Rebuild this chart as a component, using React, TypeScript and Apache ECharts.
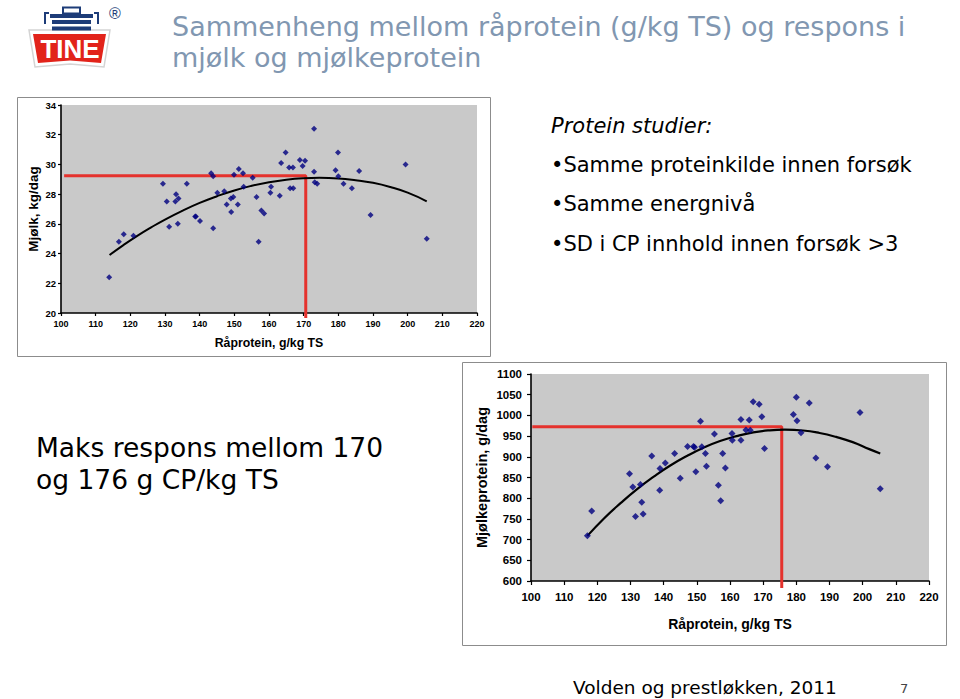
import React, { useEffect, useRef } from "react";
import * as echarts from "echarts";

const titleLines = ["Sammenheng mellom råprotein (g/kg TS) og respons i", "mjølk og mjølkeprotein"];
const noteHeading = "Protein studier:";
const noteBullets = ["•Samme proteinkilde innen forsøk", "•Samme energnivå", "•SD i CP innhold innen forsøk >3"];
const conclusionLines = ["Maks respons mellom 170", "og 176 g CP/kg TS"];
const sourceText = "Volden og prestløkken, 2011";
const pageNumber = "7";

const xAxisName = "Råprotein, g/kg TS";
const milkAxisName = "Mjølk, kg/dag";
const proteinAxisName = "Mjølkeprotein, g/dag";

// Crude protein (g/kg DM) vs milk yield (kg/day)
const milkPoints: number[][] = [
  [113.9, 22.4], [116.7, 24.8], [118.1, 25.3], [120.9, 25.2], [129.4, 28.7], [130.5, 27.5],
  [131.2, 25.8], [133.0, 27.5], [133.2, 28.0], [133.9, 27.7], [133.7, 26.0], [136.3, 28.7],
  [138.7, 26.5], [138.9, 26.5], [140.1, 26.2], [143.3, 29.4], [143.9, 29.2], [143.9, 25.7],
  [145.1, 28.1], [147.1, 28.2], [147.8, 27.3], [149.0, 27.7], [149.1, 26.8], [149.7, 27.8],
  [149.9, 29.3], [151.0, 27.3], [151.3, 29.7], [152.5, 29.4], [152.7, 28.5], [155.3, 29.1],
  [156.4, 27.8], [157.0, 24.8], [157.8, 26.9], [158.6, 26.7], [160.4, 28.1], [160.6, 28.5],
  [163.1, 27.9], [163.5, 30.1], [164.8, 30.8], [165.8, 29.8], [166.1, 28.4], [166.9, 29.8],
  [167.0, 28.4], [168.9, 30.3], [169.7, 29.9], [170.4, 30.25], [173.0, 32.4], [173.0, 29.5],
  [173.2, 28.8], [173.9, 28.7], [179.2, 29.6], [179.9, 30.8], [180.0, 29.2], [181.5, 28.7],
  [183.9, 28.4], [186.0, 29.55], [189.3, 26.6], [199.4, 30.0], [205.5, 25.0],
];
const milkTrend: number[][] = [
  [114, 23.9], [118, 24.57], [122, 25.19], [126, 25.76], [130, 26.29], [135, 26.88],
  [140, 27.41], [145, 27.86], [150, 28.25], [155, 28.56], [160, 28.8], [165, 28.97],
  [170, 29.07], [174.5, 29.1], [180, 29.06], [185, 28.94], [190, 28.76], [195, 28.48],
  [200, 28.1], [205.5, 27.52],
];
const milkOptimum: number[][] = [[100.9, 29.24], [170.6, 29.24], [170.6, 19.66]];

// Crude protein (g/kg DM) vs milk protein yield (g/day)
const proteinPoints: number[][] = [
  [117.0, 709], [118.3, 769], [129.7, 859], [130.7, 827], [131.5, 756], [133.0, 833],
  [133.4, 790], [133.8, 762], [136.4, 902], [138.8, 819], [138.9, 872], [140.5, 885],
  [143.3, 908], [145.0, 848], [147.2, 925], [149.0, 925], [149.3, 923], [149.7, 864],
  [151.1, 986], [151.5, 924], [152.6, 908], [152.9, 877], [155.3, 955], [156.5, 831],
  [157.2, 794], [157.8, 908], [158.6, 873], [160.6, 956], [160.7, 940], [163.3, 990],
  [163.3, 940], [164.8, 965], [165.8, 989], [166.1, 964], [167.0, 1033], [168.8, 1027],
  [169.6, 997], [170.4, 920], [179.1, 1002], [180.0, 1044], [180.2, 987], [181.4, 958],
  [183.9, 1030], [185.9, 897], [189.4, 876], [199.2, 1007], [205.3, 823],
];
const proteinTrend: number[][] = [
  [117, 709], [122, 751], [127, 788], [132, 822], [137, 852], [142, 879], [147, 902],
  [152, 922], [157, 938], [162, 950], [167, 959], [172, 964], [176.5, 965.5], [182, 963.5],
  [187, 957.5], [192, 948], [197, 935.5], [202, 918.5], [205.3, 908],
];
const proteinOptimum: number[][] = [[100.4, 972.6], [175.6, 972.6], [175.6, 583]];

const X_MIN = 100;
const X_MAX = 220;
const X_STEP = 10;
const MILK_MIN = 20;
const MILK_MAX = 34;
const MILK_STEP = 2;
const PROT_MIN = 600;
const PROT_MAX = 1100;
const PROT_STEP = 50;

const AX_FONT = "Liberation Sans, Arial, sans-serif";
const SLIDE_FONT = "DejaVu Sans, Verdana, sans-serif";
const NAVY = "#000080";
const RED = "#e5322d";
const PLOT_BG = "#c9c9c9";
const LOGO_BLUE = "#1d3c78";

function axisCommon(fontSize: number, margin: number, tick: number) {
  return {
    axisLine: { show: true, onZero: false, lineStyle: { color: "#000", width: 1.6 } },
    axisTick: { show: true, inside: false, length: tick, lineStyle: { color: "#000", width: 1.2 } },
    axisLabel: {
      fontSize, fontWeight: "bold", color: "#000", fontFamily: AX_FONT, margin,
      formatter: (v: number) => String(v),
    },
    splitLine: { show: false },
  };
}

export default function App() {
  const ref = useRef<HTMLDivElement>(null);
  useEffect(() => {
    if (!ref.current) return;
    const chart = echarts.init(ref.current, null, { renderer: "svg" });
    const txt = (text: string, x: number, y: number, size: number, extra: any = {}) => ({
      type: "text",
      x,
      y,
      z: 50,
      style: {
        text,
        fill: "#000",
        fontSize: size,
        fontFamily: SLIDE_FONT,
        align: "left",
        verticalAlign: "middle",
        ...extra,
      },
    });
    const option: any = {
      animation: false,
      backgroundColor: "#fff",
      grid: [
        { left: 61, top: 105, width: 416, height: 208, show: true, backgroundColor: PLOT_BG, borderWidth: 0 },
        { left: 531, top: 374, width: 398, height: 207, show: true, backgroundColor: PLOT_BG, borderWidth: 0 },
      ],
      xAxis: [
        {
          gridIndex: 0, type: "value", min: X_MIN, max: X_MAX, interval: X_STEP,
          ...axisCommon(9, 6, 3),
          name: xAxisName, nameLocation: "middle", nameGap: 24,
          nameTextStyle: { fontSize: 12.3, fontWeight: "bold", color: "#000", fontFamily: AX_FONT },
        },
        {
          gridIndex: 1, type: "value", min: X_MIN, max: X_MAX, interval: X_STEP,
          ...axisCommon(11.5, 10, 4),
          name: xAxisName, nameLocation: "middle", nameGap: 36,
          nameTextStyle: { fontSize: 14, fontWeight: "bold", color: "#000", fontFamily: AX_FONT },
        },
      ],
      yAxis: [
        {
          gridIndex: 0, type: "value", min: MILK_MIN, max: MILK_MAX, interval: MILK_STEP,
          ...axisCommon(9.5, 5, 3),
          name: milkAxisName, nameLocation: "middle", nameGap: 21, nameRotate: 90,
          nameTextStyle: { fontSize: 13.5, fontWeight: "bold", color: "#000", fontFamily: AX_FONT },
        },
        {
          gridIndex: 1, type: "value", min: PROT_MIN, max: PROT_MAX, interval: PROT_STEP,
          ...axisCommon(11.5, 9, 4),
          name: proteinAxisName, nameLocation: "middle", nameGap: 42, nameRotate: 90,
          nameTextStyle: { fontSize: 14.5, fontWeight: "bold", color: "#000", fontFamily: AX_FONT },
        },
      ],
      series: [
        {
          type: "line", xAxisIndex: 0, yAxisIndex: 0, data: milkOptimum, symbol: "none", clip: false,
          lineStyle: { color: RED, width: 3 }, z: 3,
        },
        {
          type: "line", xAxisIndex: 0, yAxisIndex: 0, data: milkTrend, symbol: "none", smooth: true,
          lineStyle: { color: "#000", width: 2 }, z: 4,
        },
        {
          type: "scatter", xAxisIndex: 0, yAxisIndex: 0, data: milkPoints, symbol: "diamond", symbolSize: 6,
          itemStyle: { color: NAVY }, z: 5,
        },
        {
          type: "line", xAxisIndex: 1, yAxisIndex: 1, data: proteinOptimum, symbol: "none", clip: false,
          lineStyle: { color: RED, width: 3 }, z: 3,
        },
        {
          type: "line", xAxisIndex: 1, yAxisIndex: 1, data: proteinTrend, symbol: "none", smooth: true,
          lineStyle: { color: "#000", width: 2.2 }, z: 4,
        },
        {
          type: "scatter", xAxisIndex: 1, yAxisIndex: 1, data: proteinPoints, symbol: "diamond", symbolSize: 7,
          itemStyle: { color: NAVY }, z: 5,
        },
      ],
      graphic: [
        // chart frames
        { type: "rect", z: 1, shape: { x: 17.5, y: 97.5, width: 473, height: 259 }, style: { fill: "rgba(0,0,0,0)", stroke: "#8c8c8c", lineWidth: 1 } },
        { type: "rect", z: 1, shape: { x: 462.5, y: 362.5, width: 484, height: 283 }, style: { fill: "rgba(0,0,0,0)", stroke: "#8c8c8c", lineWidth: 1 } },
        // title
        txt(titleLines[0], 172, 26, 27, { fill: "#8197b1" }),
        txt(titleLines[1], 172, 57, 27, { fill: "#8197b1" }),
        // notes
        txt(noteHeading, 551, 126, 21, { fontStyle: "italic" }),
        txt(noteBullets[0], 551, 165, 21),
        txt(noteBullets[1], 551, 204, 21),
        txt(noteBullets[2], 551, 244, 21),
        // conclusion
        txt(conclusionLines[0], 36, 447, 26.5),
        txt(conclusionLines[1], 36, 479, 26.5),
        // footer
        txt(sourceText, 573, 687, 18.5),
        txt(pageNumber, 900, 688, 13, { fill: "#444" }),
        // logo
        {
          type: "group",
          z: 20,
          children: [
            { type: "polygon", shape: { points: [[29, 30], [110, 30], [104, 67], [70, 64], [35, 67]] }, style: { fill: "#fff", stroke: "#d4d4d4", lineWidth: 1.5 } },
            { type: "polygon", shape: { points: [[33, 34], [106, 34], [101, 63], [70, 60.5], [38, 63]] }, style: { fill: "#e2231a" } },
            { type: "text", x: 70, y: 48.5, style: { text: "TINE", fill: "#fff", fontSize: 26, fontWeight: "bold", fontFamily: AX_FONT, align: "center", verticalAlign: "middle" } },
            { type: "rect", shape: { x: 63, y: 7.5, width: 17, height: 6 }, style: { fill: "none", stroke: LOGO_BLUE, lineWidth: 2 } },
            { type: "rect", shape: { x: 50, y: 14, width: 43, height: 4 }, style: { fill: LOGO_BLUE } },
            { type: "rect", shape: { x: 52, y: 20, width: 39, height: 4 }, style: { fill: LOGO_BLUE } },
            { type: "rect", shape: { x: 52, y: 26.5, width: 39, height: 4 }, style: { fill: LOGO_BLUE } },
            { type: "polyline", shape: { points: [[49, 13], [45, 13], [45, 24]] }, style: { stroke: LOGO_BLUE, lineWidth: 2, fill: "none" } },
            { type: "polyline", shape: { points: [[94, 13], [98, 13], [98, 24]] }, style: { stroke: LOGO_BLUE, lineWidth: 2, fill: "none" } },
            { type: "text", x: 115, y: 13, style: { text: "®", fill: LOGO_BLUE, fontSize: 16, fontFamily: AX_FONT, align: "center", verticalAlign: "middle" } },
          ],
        },
      ],
    };
    chart.setOption(option);
    return () => chart.dispose();
  }, []);
  return <div ref={ref} style={{ position: "fixed", left: 0, top: 0, width: 960, height: 699 }} />;
}
